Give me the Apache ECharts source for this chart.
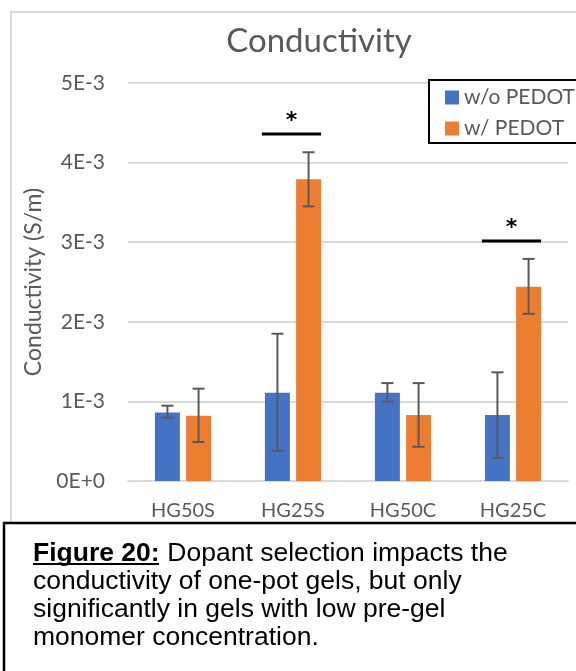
<!DOCTYPE html>
<html>
<head>
<meta charset="utf-8">
<script src="https://cdn.jsdelivr.net/npm/echarts@6/dist/echarts.min.js"></script>
<style>
html,body{margin:0;padding:0;background:#fff;}
#chart{width:576px;height:671px;}
</style>
</head>
<body>
<div id="chart"></div>
<script>
var categories = ['HG50S', 'HG25S', 'HG50C', 'HG25C'];
var seriesNames = ['w/o PEDOT', 'w/ PEDOT'];
var withoutPedot = [0.00086, 0.00111, 0.00111, 0.00083];
var withoutPedotLow = [0.000795, 0.00038, 0.000996, 0.00029];
var withoutPedotHigh = [0.000946, 0.00185, 0.00123, 0.001365];
var withPedot = [0.00082, 0.00379, 0.00083, 0.00244];
var withPedotLow = [0.00049, 0.00345, 0.00043, 0.00210];
var withPedotHigh = [0.00116, 0.00413, 0.00123, 0.00279];
var yTicks = ['0E+0', '1E-3', '2E-3', '3E-3', '4E-3', '5E-3'];
var sigCategories = [1, 3];
var sigLevels = [0.00436, 0.003015];
var sigMarks = ['*', '*'];
var titleText = 'Conductivity';
var yAxisName = 'Conductivity (S/m)';
var captionBold = 'Figure 20:';
var captionLines = [' Dopant selection impacts the', 'conductivity of one-pot gels, but only', 'significantly in gels with low pre-gel', 'monomer concentration.'];

var BLUE = '#4472C4', ORANGE = '#ED7D31', GREY = '#595959';
var FONT = 'Lato';
var CAP_FONT = '26.5px "Liberation Sans", Arial, sans-serif';

function errData(low, high) {
  return categories.map(function (c, i) { return [i, low[i], high[i]]; });
}
function errSeries(name, low, high, sign) {
  return {
    type: 'custom',
    name: name + ' err',
    data: errData(low, high),
    z: 5,
    silent: true,
    renderItem: function (params, api) {
      var band = api.size([1, 0])[0];
      var off = sign * band * 0.1415;
      var p1 = api.coord([api.value(0), api.value(1)]);
      var p2 = api.coord([api.value(0), api.value(2)]);
      var x = p1[0] + off;
      var hw = 6;
      var st = { stroke: '#5a5a5a', lineWidth: 2 };
      return {
        type: 'group',
        children: [
          { type: 'line', shape: { x1: x, y1: p1[1], x2: x, y2: p2[1] }, style: st },
          { type: 'line', shape: { x1: x - hw, y1: p1[1], x2: x + hw, y2: p1[1] }, style: st },
          { type: 'line', shape: { x1: x - hw, y1: p2[1], x2: x + hw, y2: p2[1] }, style: st }
        ]
      };
    }
  };
}

var chart = echarts.init(document.getElementById('chart'), null, { renderer: 'canvas' });
var option = {
  backgroundColor: '#ffffff',
  animation: false,
  title: {
    text: titleText,
    left: 314,
    top: 20,
    textAlign: 'center',
    textStyle: { fontFamily: FONT, fontSize: 33, fontWeight: 'normal', color: GREY }
  },
  legend: {
    orient: 'vertical',
    left: 440,
    top: 82,
    itemWidth: 14,
    itemHeight: 14,
    itemGap: 10,
    icon: 'rect',
    data: seriesNames,
    textStyle: { fontFamily: FONT, fontSize: 21, color: GREY }
  },
  grid: { left: 128, right: 8, top: 83, bottom: 190, containLabel: false },
  xAxis: {
    type: 'category',
    data: categories,
    axisLine: { show: true, lineStyle: { color: '#d9d9d9', width: 2 } },
    axisTick: { show: false },
    axisLabel: { fontFamily: FONT, fontSize: 20, color: GREY, margin: 20 }
  },
  yAxis: {
    type: 'value',
    min: 0,
    max: 0.005,
    interval: 0.001,
    name: yAxisName,
    nameLocation: 'middle',
    nameGap: 76,
    nameTextStyle: { fontFamily: FONT, fontSize: 23, color: GREY },
    axisLine: { show: false },
    axisTick: { show: false },
    splitLine: { lineStyle: { color: '#d9d9d9', width: 2 } },
    axisLabel: {
      fontFamily: FONT, fontSize: 21, color: GREY, margin: 23,
      formatter: function (v) { return yTicks[Math.round(v / 0.001)]; }
    }
  },
  graphic: [
    { type: 'rect', shape: { x: 11, y: 12, width: 700, height: 600 }, style: { fill: 'none', stroke: '#d9d9d9', lineWidth: 2 }, z: -10, silent: true },
    { type: 'rect', shape: { x: 429, y: 80, width: 200, height: 63 }, style: { fill: '#ffffff', stroke: '#000000', lineWidth: 2 }, z: 1, silent: true },
    { type: 'rect', shape: { x: 4, y: 523, width: 700, height: 300 }, style: { fill: '#ffffff', stroke: '#000000', lineWidth: 2.5 }, z: 50, silent: true },
    { type: 'text', x: 33, y: 554, z: 51, style: { text: captionBold, font: 'bold ' + CAP_FONT, fill: '#000', verticalAlign: 'middle', align: 'left' } },
    { type: 'line', z: 51, shape: { x1: 33, y1: 564, x2: 159, y2: 564 }, style: { stroke: '#000', lineWidth: 2 } },
    { type: 'text', x: 160, y: 554, z: 51, style: { text: captionLines[0], font: CAP_FONT, fill: '#000', verticalAlign: 'middle', align: 'left' } },
    { type: 'text', x: 33, y: 582, z: 51, style: { text: captionLines[1], font: CAP_FONT, fill: '#000', verticalAlign: 'middle', align: 'left' } },
    { type: 'text', x: 33, y: 610, z: 51, style: { text: captionLines[2], font: CAP_FONT, fill: '#000', verticalAlign: 'middle', align: 'left' } },
    { type: 'text', x: 33, y: 638, z: 51, style: { text: captionLines[3], font: CAP_FONT, fill: '#000', verticalAlign: 'middle', align: 'left' } }
  ],
  series: [
    {
      type: 'bar', name: seriesNames[0], data: withoutPedot,
      barWidth: '22.7%', barGap: '25%',
      itemStyle: { color: BLUE }
    },
    {
      type: 'bar', name: seriesNames[1], data: withPedot,
      barWidth: '22.7%', barGap: '25%',
      itemStyle: { color: ORANGE }
    },
    errSeries(seriesNames[0], withoutPedotLow, withoutPedotHigh, -1),
    errSeries(seriesNames[1], withPedotLow, withPedotHigh, 1),
    {
      type: 'custom',
      name: 'significance',
      data: sigCategories.map(function (c, i) { return [c, sigLevels[i], i]; }),
      z: 6,
      silent: true,
      renderItem: function (params, api) {
        var band = api.size([1, 0])[0];
        var p = api.coord([api.value(0), api.value(1)]);
        var x1 = p[0] - band * 0.283;
        var x2 = p[0] + band * 0.255;
        return {
          type: 'group',
          children: [
            { type: 'line', shape: { x1: x1, y1: p[1], x2: x2, y2: p[1] }, style: { stroke: '#000', lineWidth: 3 } },
            { type: 'text', x: (x1 + x2) / 2, y: p[1] - 13, style: { text: sigMarks[api.value(2)], font: 'bold 22px "DejaVu Sans", sans-serif', fill: '#000', align: 'center', verticalAlign: 'middle' } }
          ]
        };
      }
    }
  ]
};
chart.setOption(option);
</script>
</body>
</html>
